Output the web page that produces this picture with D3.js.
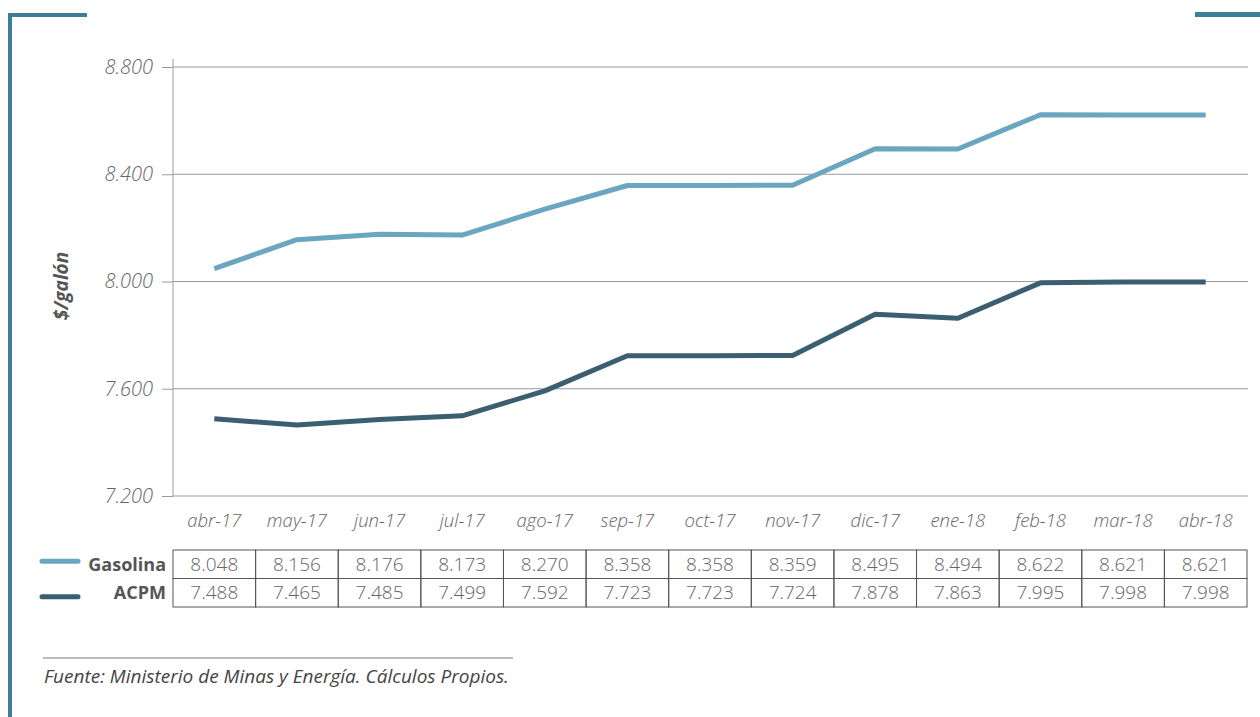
<!DOCTYPE html>
<html>
<head>
<meta charset="utf-8">
<script src="https://cdn.jsdelivr.net/npm/d3@7"></script>
<style>
  body { margin: 0; background: #fff; }
  text { font-family: "Open Sans", "Noto Sans", sans-serif; }
</style>
</head>
<body>
<script>
// Data
const months = ["abr-17", "may-17", "jun-17", "jul-17", "ago-17", "sep-17", "oct-17",
                "nov-17", "dic-17", "ene-18", "feb-18", "mar-18", "abr-18"];
const gasolina = [8048, 8156, 8176, 8173, 8270, 8358, 8358, 8359, 8495, 8494, 8622, 8621, 8621];
const acpm = [7488, 7465, 7485, 7499, 7592, 7723, 7723, 7724, 7878, 7863, 7995, 7998, 7998];
const yTicks = [7200, 7600, 8000, 8400, 8800];

const W = 1260, H = 717;
const frameColor = "#3f7d96";
const gridColor = "#9a9a9a";
const textColor = "#666";

const svg = d3.select("body").append("svg")
  .attr("width", W).attr("height", H);

// Decorative frame
svg.append("rect").attr("x", 8).attr("y", 13).attr("width", 4).attr("height", H - 13).attr("fill", frameColor);
svg.append("rect").attr("x", 8).attr("y", 13).attr("width", 79).attr("height", 4).attr("fill", frameColor);
svg.append("rect").attr("x", 1195).attr("y", 12).attr("width", 65).attr("height", 5).attr("fill", frameColor);

// Scales
const x = d3.scaleBand().domain(months).range([173, 1247]);
const y = d3.scaleLinear().domain([7200, 8800]).range([496, 67]);

// y axis with ticks
const yAxis = svg.append("g")
  .attr("transform", "translate(173,0)")
  .call(d3.axisLeft(y).tickValues(yTicks).tickSize(11).tickPadding(9)
    .tickFormat(d => d3.format(".3f")(d / 1000)));
yAxis.select(".domain").remove();
yAxis.selectAll("line").attr("stroke", gridColor);
yAxis.selectAll("text")
  .attr("fill", textColor).attr("font-size", 20).attr("font-style", "italic").attr("font-weight", 300);

// gridlines
svg.append("g").selectAll("line").data(yTicks).join("line")
  .attr("x1", 173).attr("x2", 1248)
  .attr("y1", d => y(d)).attr("y2", d => y(d))
  .attr("stroke", gridColor).attr("stroke-width", 1);

svg.append("line").attr("x1", 173).attr("x2", 173).attr("y1", 59).attr("y2", 496)
  .attr("stroke", gridColor);

// X labels
svg.append("g").selectAll("text").data(months).join("text")
  .attr("x", d => x(d) + x.bandwidth() / 2).attr("y", 527)
  .attr("text-anchor", "middle")
  .attr("fill", textColor).attr("font-size", 18.5).attr("font-style", "italic").attr("font-weight", 300)
  .text(d => d);

// Y title
svg.append("text")
  .attr("transform", "translate(68,286) rotate(-90)")
  .attr("text-anchor", "middle")
  .attr("fill", "#555").attr("font-size", 19).attr("font-style", "italic").attr("font-weight", 700)
  .text("$/galón");

// Lines
const series = [
  { name: "Gasolina", values: gasolina, color: "#6aa6c0" },
  { name: "ACPM", values: acpm, color: "#3b5f70" }
];
const line = d3.line()
  .x((d, i) => x(months[i]) + x.bandwidth() / 2)
  .y(d => y(d));
svg.append("g").selectAll("path").data(series).join("path")
  .attr("d", d => line(d.values))
  .attr("fill", "none")
  .attr("stroke", d => d.color)
  .attr("stroke-width", 5)
  .attr("stroke-linejoin", "round");

// Data table
const rowTop = 550, rowH = 28.5;
const table = svg.append("g");
series.forEach((s, r) => {
  const y0 = rowTop + r * rowH;
  s.values.forEach((v, i) => {
    table.append("rect")
      .attr("x", x(months[i])).attr("y", y0)
      .attr("width", x.bandwidth()).attr("height", rowH)
      .attr("fill", "none").attr("stroke", "#555").attr("stroke-width", 1);
    table.append("text")
      .attr("x", x(months[i]) + x.bandwidth() / 2).attr("y", y0 + rowH / 2 + 6.5)
      .attr("text-anchor", "middle")
      .attr("fill", textColor).attr("font-size", 19).attr("font-weight", 300)
      .text(d3.format(".3f")(v / 1000));
  });
  // legend
  const ly = y0 + rowH / 2 + (r === 0 ? -3 : 4);
  table.append("line")
    .attr("x1", 42).attr("x2", 78)
    .attr("y1", ly).attr("y2", ly)
    .attr("stroke", s.color).attr("stroke-width", 5).attr("stroke-linecap", "round");
  table.append("text")
    .attr("x", 166).attr("y", y0 + rowH / 2 + 6.5)
    .attr("text-anchor", "end")
    .attr("fill", "#555").attr("font-size", 18).attr("font-weight", 700)
    .text(s.name);
});

// Source
svg.append("line").attr("x1", 43).attr("x2", 513).attr("y1", 658).attr("y2", 658)
  .attr("stroke", "#777").attr("stroke-width", 1);
svg.append("text").attr("x", 44).attr("y", 683)
  .attr("fill", "#444").attr("font-size", 19).attr("font-style", "italic")
  .text("Fuente: Ministerio de Minas y Energía. Cálculos Propios.");
</script>
</body>
</html>
